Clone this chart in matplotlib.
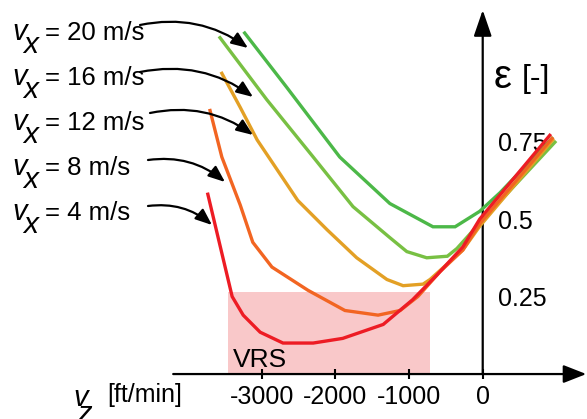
import matplotlib.pyplot as plt
from matplotlib.patches import Rectangle

plt.rcParams['font.family'] = ['Liberation Sans', 'DejaVu Sans']

# forward speeds and their curves: descent rate vz [ft/min] vs eps [-]
speeds = [20, 16, 12, 8, 4]
colors = ['#4cb848', '#78c043', '#e3a025', '#f26522', '#ed1c24']

vz_20 = [-3230, -2660, -1940, -1260, -675, -375, -40, 235, 940]
eps_20 = [1.10, 0.925, 0.70, 0.55, 0.475, 0.475, 0.525, 0.585, 0.76]
vz_16 = [-3565, -2930, -2300, -1760, -1260, -1030, -760, -480, -350, -40, 980]
eps_16 = [1.085, 0.885, 0.70, 0.54, 0.44, 0.395, 0.375, 0.38, 0.405, 0.487, 0.748]
vz_12 = [-3540, -3290, -3060, -2820, -2510, -2110, -1710, -1300, -1080, -810, -715, -270, -40, 950]
eps_12 = [0.97, 0.86, 0.755, 0.67, 0.56, 0.465, 0.375, 0.305, 0.285, 0.29, 0.305, 0.40, 0.477, 0.755]
vz_8 = [-3700, -3540, -3290, -3120, -2860, -2370, -1870, -1420, -1120, -880, -580, -270, -40, 940]
eps_8 = [0.85, 0.70, 0.545, 0.425, 0.345, 0.27, 0.205, 0.19, 0.205, 0.25, 0.33, 0.40, 0.485, 0.76]
vz_4 = [-3730, -3560, -3400, -3250, -3020, -2710, -2300, -1900, -1350, -950, -620, -270, -40, 910]
eps_4 = [0.58, 0.41, 0.25, 0.19, 0.135, 0.10, 0.10, 0.115, 0.16, 0.24, 0.32, 0.41, 0.50, 0.77]

curves = [(vz_20, eps_20), (vz_16, eps_16), (vz_12, eps_12), (vz_8, eps_8), (vz_4, eps_4)]

# vortex ring state region
vrs_vz = [-3460, -720]
vrs_eps = 0.265

x_ticks = [-3000, -2000, -1000, 0]
y_ticks = [0.25, 0.5, 0.75]
y_tick_labels = ['0.25', '0.5', '0.75']

W, H = 587, 419
fig = plt.figure(figsize=(W / 100, H / 100), dpi=100)
ax = fig.add_axes([0, 0, 1, 1])
ax.set_xlim(-6550, 1415)
ax.set_ylim(-0.145, 1.2065)


def fpx(x, y):
    """pixel position (from top left) -> figure fraction"""
    return x / W, 1 - y / H


# axes through the origin
for s in ax.spines.values():
    s.set_visible(False)
ax.spines['bottom'].set_position(('data', 0))
ax.spines['right'].set_position(('data', 0))
ax.yaxis.tick_right()
ax.set_xticks(x_ticks, [str(t) for t in x_ticks])
ax.set_yticks(y_ticks, y_tick_labels)
ax.tick_params(axis='x', direction='inout', length=6.5, width=1.5, pad=4.5, labelsize=18)
ax.tick_params(axis='y', length=0, pad=11, labelsize=18)

ax.annotate('', xy=(1405, 0), xytext=(-4200, 0),
            arrowprops=dict(arrowstyle='-|>,head_length=1.4,head_width=0.55',
                            lw=1.6, color='k', shrinkA=0, shrinkB=0, mutation_scale=10))
ax.annotate('', xy=(0, 1.174), xytext=(0, 0),
            arrowprops=dict(arrowstyle='-|>,head_length=1.6,head_width=0.55',
                            lw=1.6, color='k', shrinkA=0, shrinkB=0, mutation_scale=10))

ax.add_patch(Rectangle((vrs_vz[0], 0), vrs_vz[1] - vrs_vz[0], vrs_eps,
                       facecolor='#f9c8c9', edgecolor='none', zorder=0))
ax.text(-3390, 0.023, 'VRS', fontsize=19, ha='left', va='baseline')

for (vz, eps), c in zip(curves, colors):
    ax.plot(vz, eps, color=c, lw=2.4, solid_joinstyle='miter', zorder=3)

# y axis label
fig.text(*fpx(494, 88), 'ε', fontsize=29, ha='left', va='baseline')
fig.text(*fpx(522, 87), '[-]', fontsize=23, ha='left', va='baseline')

# speed labels with arrows to the curves
tails = [(140, 25), (140, 72), (150, 113), (148, 160), (148, 206)]
tips = [(248, 48), (253, 97), (253, 135), (225, 182), (212, 225)]
for i, s in enumerate(speeds):
    base = 40 + 45 * i
    fig.text(*fpx(12, base), 'v', style='italic', fontsize=21, va='baseline')
    fig.text(*fpx(23, base + 13), 'x', style='italic', fontsize=21.5, va='baseline')
    fig.text(*fpx(45, base), f'= {s} m/s', fontsize=18.5, va='baseline')
    ax.annotate('', xy=fpx(*tips[i]), xycoords='figure fraction',
                xytext=fpx(*tails[i]), textcoords='figure fraction',
                arrowprops=dict(arrowstyle='-|>,head_length=1.0,head_width=0.4',
                                connectionstyle='arc3,rad=-0.22', lw=1.6, color='k',
                                shrinkA=0, shrinkB=0, mutation_scale=10))

# x axis label
fig.text(*fpx(73, 406), 'v', style='italic', fontsize=21, va='baseline')
fig.text(*fpx(77, 422), 'z', style='italic', fontsize=21, va='baseline')
fig.text(*fpx(107, 402), '[ft/min]', fontsize=18, va='baseline')

fig.savefig('out.png', dpi=100)
